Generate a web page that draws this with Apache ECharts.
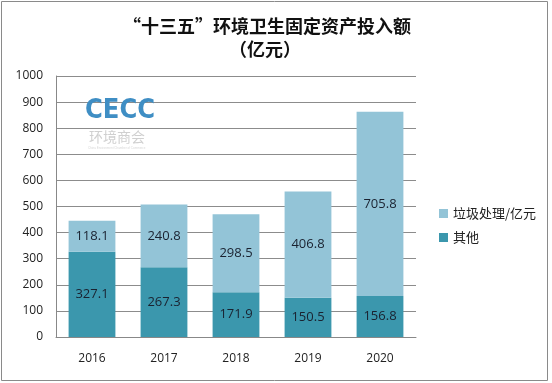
<!DOCTYPE html>
<html><head><meta charset="utf-8">
<script src="https://cdn.jsdelivr.net/npm/echarts@6/dist/echarts.min.js"></script>
<style>html,body{margin:0;padding:0;background:#fff}#c{width:552px;height:383px}</style>
</head><body><div id="c"></div>
<script>
var categories = ['2016','2017','2018','2019','2020'];
var otherValues = [327.1, 267.3, 171.9, 150.5, 156.8];
var wasteValues = [118.1, 240.8, 298.5, 406.8, 705.8];
var yTicks = [0,100,200,300,400,500,600,700,800,900,1000];

var chart = echarts.init(document.getElementById('c'));
var font = '"Open Sans", "Liberation Sans", "Noto Sans CJK SC", sans-serif';
chart.setOption({
  backgroundColor: '#ffffff',
  animation: false,
  title: [{
    text: '“十三五”环境卫生固定资产投入额',
    left: 262, top: 12, textAlign: 'center',
    textStyle: {fontFamily: '"Noto Sans CJK SC"', fontSize: 18, fontWeight: 'bold', color: '#111'}
  },{
    text: '（亿元）',
    left: 260, top: 35, textAlign: 'center',
    textStyle: {fontFamily: '"Noto Sans CJK SC"', fontSize: 18, fontWeight: 'bold', color: '#111'}
  }],
  graphic: [
    {type: 'rect', shape: {x: 1.5, y: 1.5, width: 546, height: 379}, style: {fill: 'none', stroke: '#8a8a8a', lineWidth: 1}, z: 100},
    {type: 'text', left: 85, top: 97, z: 1, style: {text: 'CECC', font: 'bold 27px "DejaVu Sans Condensed", "Liberation Sans Narrow", sans-serif',
      fill: '#3f8ec4'}},
    {type: 'text', left: 89, top: 130, z: 1, style: {text: '环境商会', font: '14px "Noto Sans CJK SC"', fill: '#d0d0d0'}},
    {type: 'text', left: 88, top: 147, z: 1, style: {text: 'China Environment Chamber of Commerce', font: '3px sans-serif', fill: '#d8d8d8'}}
  ],
  legend: {
    orient: 'vertical', left: 434, top: 202, itemWidth: 9, itemHeight: 9, itemGap: 11,
    icon: 'rect',
    data: ['垃圾处理/亿元', '其他'],
    textStyle: {fontFamily: '"Noto Sans CJK SC"', fontSize: 13, color: '#222'}
  },
  grid: {left: 56, right: 136, top: 76, bottom: 46, containLabel: false},
  xAxis: {
    type: 'category', data: categories,
    axisLine: {lineStyle: {color: '#888'}}, axisTick: {show: false},
    axisLabel: {margin: 16, fontFamily: font, fontSize: 12, color: '#222'}
  },
  yAxis: {
    type: 'value', min: yTicks[0], max: yTicks[yTicks.length-1], interval: 100,
    axisLine: {show: true, lineStyle: {color: '#888'}}, axisTick: {show: false},
    axisLabel: {margin: 13, fontFamily: font, fontSize: 12, color: '#222', formatter: function (v) { return String(v); }},
    splitLine: {lineStyle: {color: '#8c8c8c'}}
  },
  series: [{
    name: '其他', type: 'bar', stack: 'a', data: otherValues, barWidth: '65%',
    itemStyle: {color: '#3b97ad'},
    label: {show: true, position: 'inside', fontFamily: font, fontSize: 13, color: '#1a2230'}
  },{
    name: '垃圾处理/亿元', type: 'bar', stack: 'a', data: wasteValues, barWidth: '65%',
    itemStyle: {color: '#93c4d7'},
    label: {show: true, position: 'inside', fontFamily: font, fontSize: 13, color: '#1a2230'}
  }]
});
</script></body></html>
